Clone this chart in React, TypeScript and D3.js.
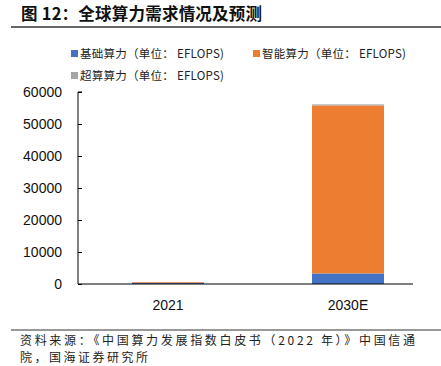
import React, { useEffect, useRef } from 'react';
import * as d3 from 'd3';

const categories = ['2021', '2030E'];
const seriesNames = [
  '基础算力（单位： EFLOPS)',
  '智能算力（单位： EFLOPS)',
  '超算算力（单位： EFLOPS)',
];
const basicValues = [369, 3300];
const aiValues = [232, 52500];
const superValues = [14, 320];
const yTicks = [0, 10000, 20000, 30000, 40000, 50000, 60000];
const colors = ['#4472C4', '#ED7D31', '#A5A5A5'];

const title = '图 12：全球算力需求情况及预测';
const sourceLines = [
  '资料来源：《中国算力发展指数白皮书（2022 年）》中国信通',
  '院，国海证券研究所',
];

const W = 441;
const H = 366;
const cjk = '"Noto Sans CJK SC", "Noto Sans", sans-serif';
const latin = '"Liberation Sans", Arial, sans-serif';

const App = () => {
  const svgRef = useRef<SVGSVGElement>(null);

  useEffect(() => {
    const svg = d3.select(svgRef.current);
    svg.selectAll('*').remove();

    const left = 78;
    const axisRight = 413;
    const top = 92;
    const bottom = 284;

    // title + rules
    svg
      .append('text')
      .attr('x', 21)
      .attr('y', 20)
      .attr('font-family', cjk)
      .attr('font-weight', 700)
      .attr('font-size', 16.5)
      .attr('fill', '#111')
      .attr('textLength', 241)
      .attr('lengthAdjust', 'spacing')
      .text(title);
    svg
      .append('line')
      .attr('x1', 11)
      .attr('x2', W)
      .attr('y1', 27)
      .attr('y2', 27)
      .attr('stroke', '#333')
      .attr('stroke-width', 1.3);

    // legend
    const legendPos = [
      { x: 71, y: 53.5 },
      { x: 253, y: 53.5 },
      { x: 71, y: 75.5 },
    ];
    seriesNames.forEach((name, i) => {
      const g = svg.append('g').attr('transform', `translate(${legendPos[i].x},${legendPos[i].y})`);
      g.append('rect').attr('x', 0).attr('y', -3.5).attr('width', 7).attr('height', 7).attr('fill', colors[i]);
      g.append('text')
        .attr('x', 9)
        .attr('y', 0)
        .attr('dy', '0.36em')
        .attr('font-family', cjk)
        .attr('font-size', 11.5)
        .attr('fill', '#222')
        .attr('textLength', 144)
        .attr('lengthAdjust', 'spacing')
        .text(name);
    });

    const x = d3
      .scaleBand<string>()
      .domain(categories)
      .range([left, left + 360])
      .paddingInner(0.6)
      .paddingOuter(0.3);
    const y = d3.scaleLinear().domain([0, 60000]).range([bottom, top]);

    const rows = categories.map((c, i) => ({
      cat: c,
      basic: basicValues[i],
      ai: aiValues[i],
      sup: superValues[i],
    }));
    const stack = d3.stack<any>().keys(['basic', 'ai', 'sup'])(rows);

    stack.forEach((layer, i) => {
      svg
        .append('g')
        .selectAll('rect')
        .data(layer)
        .join('rect')
        .attr('x', (d: any) => x(d.data.cat)!)
        .attr('width', x.bandwidth())
        .attr('y', (d: any) => y(d[1]))
        .attr('height', (d: any) => y(d[0]) - y(d[1]))
        .attr('fill', colors[i]);
    });

    // y axis
    const yAxis = svg
      .append('g')
      .attr('transform', `translate(${left},0)`)
      .call(d3.axisRight(y).tickValues(yTicks).tickSize(4).tickFormat(() => ''));
    yAxis.select('.domain').attr('stroke', '#000').attr('d', `M4,${top}H0V${bottom}`);
    yAxis.selectAll('.tick line').attr('stroke', '#000');

    svg
      .append('g')
      .selectAll('text')
      .data(yTicks)
      .join('text')
      .attr('x', 62)
      .attr('y', (d) => y(d))
      .attr('dy', '0.36em')
      .attr('text-anchor', 'end')
      .attr('font-family', latin)
      .attr('font-size', 14)
      .attr('fill', '#111')
      .text((d) => String(d));

    // x axis
    svg
      .append('line')
      .attr('x1', left)
      .attr('x2', axisRight)
      .attr('y1', bottom)
      .attr('y2', bottom)
      .attr('stroke', '#000')
      .attr('stroke-width', 1);
    svg
      .append('g')
      .selectAll('text')
      .data(categories)
      .join('text')
      .attr('x', (d) => x(d)! + x.bandwidth() / 2)
      .attr('y', 305)
      .attr('dy', '0.36em')
      .attr('text-anchor', 'middle')
      .attr('font-family', latin)
      .attr('font-size', 14)
      .attr('fill', '#111')
      .text((d) => d);

    // source
    svg
      .append('line')
      .attr('x1', 11)
      .attr('x2', W)
      .attr('y1', 330)
      .attr('y2', 330)
      .attr('stroke', '#333')
      .attr('stroke-width', 1);
    const srcLen = [395, 128];
    sourceLines.forEach((t, i) => {
      svg
        .append('text')
        .attr('x', 20)
        .attr('y', 341 + i * 17)
        .attr('dy', '0.34em')
        .attr('font-family', cjk)
        .attr('font-size', 12)
        .attr('fill', '#222')
        .attr('textLength', srcLen[i])
        .attr('lengthAdjust', 'spacing')
        .text(t);
    });
  }, []);

  return (
    <svg
      ref={svgRef}
      width={W}
      height={H}
      viewBox={`0 0 ${W} ${H}`}
      style={{ position: 'absolute', left: 0, top: 0, background: '#fff' }}
    />
  );
};

export default App;
